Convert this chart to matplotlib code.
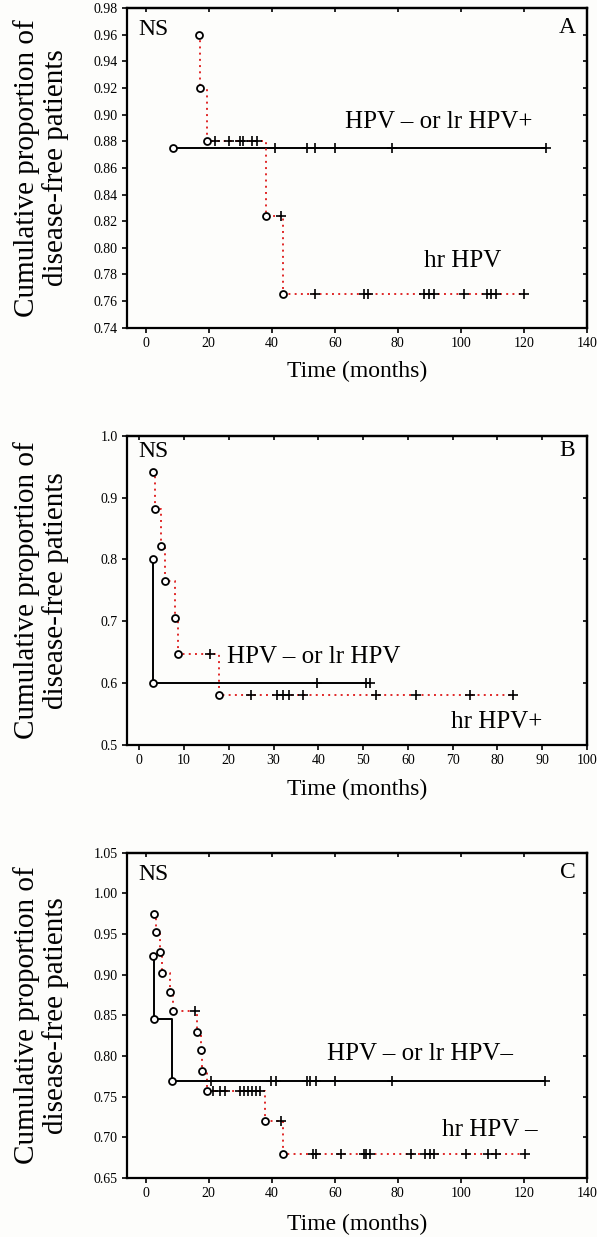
import matplotlib
matplotlib.use("Agg")
import matplotlib.pyplot as plt

# ---------------- data ----------------
# Panel A
A_neg_ev_t = [8.8]
A_neg_ev_s = [0.875]
A_neg_cen_t = [41.1, 51.2, 53.8, 60.2, 78.3, 127.0]
A_neg_cen_s = [0.875, 0.875, 0.875, 0.875, 0.875, 0.875]

A_hr_ev_t = [17.0, 17.4, 19.6, 38.1, 43.7]
A_hr_ev_s = [0.960, 0.920, 0.880, 0.824, 0.765]
A_hr_cen_t = [22.0, 26.3, 30.0, 31.0, 33.7, 35.3, 42.9,
              53.8, 69.3, 70.5, 88.3, 89.8, 91.4, 101.0, 108.3, 109.7, 111.3, 120.0]
A_hr_cen_s = [0.880, 0.880, 0.880, 0.880, 0.880, 0.880, 0.824,
              0.765, 0.765, 0.765, 0.765, 0.765, 0.765, 0.765, 0.765, 0.765, 0.765, 0.765]

# Panel B
B_neg_ev_t = [3.1, 3.1]
B_neg_ev_s = [0.800, 0.600]
B_neg_cen_t = [39.7, 50.7, 51.6]
B_neg_cen_s = [0.600, 0.600, 0.600]

B_hr_ev_t = [3.1, 3.6, 4.8, 5.7, 8.1, 8.7, 17.9]
B_hr_ev_s = [0.941, 0.882, 0.822, 0.765, 0.705, 0.647, 0.581]
B_hr_cen_t = [15.9, 24.9, 30.8, 32.1, 33.4, 36.6, 52.8, 61.9, 73.8, 83.4]
B_hr_cen_s = [0.647, 0.581, 0.581, 0.581, 0.581, 0.581, 0.581, 0.581, 0.581, 0.581]

# Panel C
C_neg_ev_t = [2.5, 2.8, 8.3]
C_neg_ev_s = [0.923, 0.846, 0.769]
C_neg_cen_t = [20.9, 39.7, 41.4, 51.1, 52.3, 53.9, 60.2, 78.3, 126.7]
C_neg_cen_s = [0.769] * 9

C_hr_ev_t = [2.8, 3.2, 4.6, 5.3, 7.8, 8.6, 16.2, 17.6, 17.8, 19.6, 37.8, 43.6]
C_hr_ev_s = [0.975, 0.952, 0.928, 0.902, 0.879, 0.855, 0.830, 0.807, 0.782, 0.757, 0.720, 0.680]
C_hr_cen_t = [15.7, 21.5, 23.7, 25.2, 29.8, 31.1, 32.4, 33.6, 35.0, 36.3, 42.9,
              53.2, 53.9, 62.0, 69.3, 69.9, 71.1, 84.1, 88.6, 90.2, 91.6, 101.6, 108.5, 111.0, 120.4]
C_hr_cen_s = [0.855, 0.757, 0.757, 0.757, 0.757, 0.757, 0.757, 0.757, 0.757, 0.757, 0.720,
              0.680, 0.680, 0.680, 0.680, 0.680, 0.680, 0.680, 0.680, 0.680, 0.680, 0.680, 0.680, 0.680, 0.680]

A_yticks = [0.74, 0.76, 0.78, 0.80, 0.82, 0.84, 0.86, 0.88, 0.90, 0.92, 0.94, 0.96, 0.98]
A_xticks = [0, 20, 40, 60, 80, 100, 120, 140]
B_yticks = [0.5, 0.6, 0.7, 0.8, 0.9, 1.0]
B_xticks = [0, 10, 20, 30, 40, 50, 60, 70, 80, 90, 100]
C_yticks = [0.65, 0.70, 0.75, 0.80, 0.85, 0.90, 0.95, 1.00, 1.05]
C_xticks = [0, 20, 40, 60, 80, 100, 120, 140]

# ---------------- style ----------------
SERIF = ["Liberation Serif", "DejaVu Serif"]
plt.rcParams["font.family"] = SERIF
RED = "#e02828"

fig = plt.figure(figsize=(5.97, 12.37), dpi=100)
fig.patch.set_facecolor("#fdfdfb")


def km(ax, ev_t, ev_s, cen_t, cen_s, color, ls, z):
    end = max([t for t, s in zip(cen_t, cen_s) if s == ev_s[-1]] + [ev_t[-1]])
    xs = list(ev_t) + [end]
    ys = list(ev_s) + [ev_s[-1]]
    if ls == ":":
        ax.step(xs, ys, where="post", color=color, lw=1.4, linestyle=(0, (1, 2.2)), zorder=z)
    else:
        ax.step(xs, ys, where="post", color=color, lw=1.4, linestyle="-", zorder=z)
    ax.plot(cen_t, cen_s, linestyle="none", marker="+", color="black",
            ms=6.5, mew=1.2, zorder=z + 2)
    ax.plot(ev_t, ev_s, linestyle="none", marker="o", mfc="white", mec="black",
            ms=5, mew=1.3, zorder=z + 3)


def setup(ax, xlim, ylim, xticks, yticks, yfmt, letter, ns_y, let_y, xlab_y):
    ax.set_facecolor("#fdfdfb")
    ax.set_xlim(*xlim)
    ax.set_ylim(*ylim)
    ax.set_xticks(xticks)
    ax.set_xticklabels([str(v) for v in xticks])
    ax.set_yticks(yticks)
    ax.set_yticklabels([yfmt.format(v) for v in yticks])
    ax.tick_params(direction="out", length=3.5, width=1.2, labelsize=10, pad=3,
                   top=False, right=False)
    for sp in ax.spines.values():
        sp.set_linewidth(1.6)
    sx = ax.secondary_xaxis("top")
    sx.set_xticks(xticks)
    sx.tick_params(direction="in", length=3, width=1.2, labeltop=False)
    sx.spines["top"].set_linewidth(1.6)
    sy = ax.secondary_yaxis("right")
    sy.set_yticks(yticks)
    sy.tick_params(direction="in", length=3, width=1.2, labelright=False)
    sy.spines["right"].set_linewidth(1.6)
    ax.set_xlabel("Time (months)", fontsize=17, va="center")
    ax.xaxis.set_label_coords(0.5, xlab_y)
    ax.set_ylabel("Cumulative proportion of\ndisease-free patients", fontsize=21,
                  va="center", linespacing=1.08)
    ax.yaxis.set_label_coords(-0.186, 0.5)
    ax.text(0.0245, ns_y, "NS", transform=ax.transAxes, fontsize=17,
            ha="left", va="center")
    ax.text(0.975, let_y, letter, transform=ax.transAxes, fontsize=17,
            ha="right", va="center")


axA = fig.add_axes([0.2122, 0.7352, 0.771, 0.2581])
axB = fig.add_axes([0.2122, 0.3977, 0.771, 0.2500])
axC = fig.add_axes([0.2122, 0.0477, 0.771, 0.2630])

setup(axA, (-6, 140), (0.74, 0.98), A_xticks, A_yticks, "{:.2f}", "A", 0.932, 0.94, -0.138)
setup(axB, (-2.8, 100), (0.5, 1.0), B_xticks, B_yticks, "{:.1f}", "B", 0.949, 0.951, -0.145)
setup(axC, (-6, 140), (0.65, 1.05), C_xticks, C_yticks, "{:.2f}", "C", 0.933, 0.939, -0.144)

km(axA, A_neg_ev_t, A_neg_ev_s, A_neg_cen_t, A_neg_cen_s, "black", "-", 2)
km(axA, A_hr_ev_t, A_hr_ev_s, A_hr_cen_t, A_hr_cen_s, RED, ":", 3)
km(axB, B_neg_ev_t, B_neg_ev_s, B_neg_cen_t, B_neg_cen_s, "black", "-", 2)
km(axB, B_hr_ev_t, B_hr_ev_s, B_hr_cen_t, B_hr_cen_s, RED, ":", 3)
km(axC, C_neg_ev_t, C_neg_ev_s, C_neg_cen_t, C_neg_cen_s, "black", "-", 2)
km(axC, C_hr_ev_t, C_hr_ev_s, C_hr_cen_t, C_hr_cen_s, RED, ":", 3)

axA.text(63.3, 0.8945, "HPV – or lr HPV+", fontsize=18, ha="left", va="center")
axA.text(88.4, 0.790, "hr HPV", fontsize=18, ha="left", va="center")
axB.text(19.5, 0.643, "HPV – or lr HPV", fontsize=18, ha="left", va="center")
axB.text(69.7, 0.538, "hr HPV+", fontsize=18, ha="left", va="center")
axC.text(57.5, 0.803, "HPV – or lr HPV–", fontsize=18, ha="left", va="center")
axC.text(94.0, 0.709, "hr HPV –", fontsize=18, ha="left", va="center")

fig.savefig("out.png", dpi=100, facecolor=fig.get_facecolor())
